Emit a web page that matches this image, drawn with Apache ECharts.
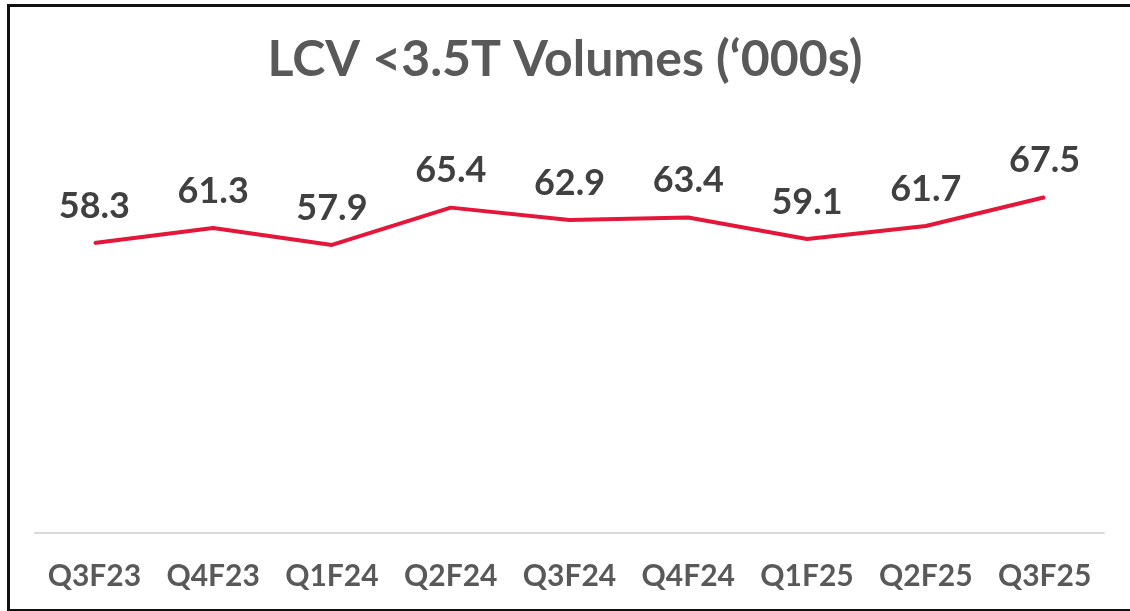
<!DOCTYPE html>
<html>
<head>
<meta charset="utf-8">
<script src="https://cdn.jsdelivr.net/npm/echarts@6/dist/echarts.min.js"></script>
<style>
    html, body { margin: 0; padding: 0; background: #fff; }
    #frame {
        position: absolute; left: 7px; top: 4px; width: 1130px; height: 602px;
        border-left: 3px solid #111; border-top: 3px solid #111; border-bottom: 3px solid #111;
    }
    #chart { position: absolute; left: 0; top: 0; width: 1130px; height: 611px; }
</style>
</head>
<body>
<div id="frame"></div>
<div id="chart"></div>
<script>
const quarters = ['Q3F23', 'Q4F23', 'Q1F24', 'Q2F24', 'Q3F24', 'Q4F24', 'Q1F25', 'Q2F25', 'Q3F25'];
const volumes = [58.3, 61.3, 57.9, 65.4, 62.9, 63.4, 59.1, 61.7, 67.5];

// LCV volumes line
function initVolumeChart() {
    const chart = echarts.init(document.getElementById('chart'));

    const option = {
        animation: false,
        title: {
            text: 'LCV <3.5T Volumes (\u2018000s)',
            left: 'center',
            top: 30,
            textStyle: {
                fontFamily: 'Lato',
                fontWeight: 'bold',
                fontSize: 50,
                color: '#595959'
            }
        },
        grid: {
            left: 35,
            right: 26,
            top: 135,
            bottom: 78
        },
        xAxis: {
            type: 'category',
            data: quarters,
            axisLine: { lineStyle: { color: '#d9d9d9', width: 2 } },
            axisTick: { show: false },
            axisLabel: {
                interval: 0,
                margin: 28,
                fontFamily: 'Lato',
                fontWeight: 'bold',
                fontSize: 30,
                color: '#595959'
            }
        },
        yAxis: {
            type: 'value',
            min: 0,
            max: 80,
            show: false,
            splitLine: { show: false }
        },
        series: [{
            type: 'line',
            data: volumes,
            symbol: 'circle',
            symbolSize: 2,
            itemStyle: { color: '#e4163a' },
            lineStyle: { color: '#e4163a', width: 4 },
            label: {
                show: true,
                position: 'top',
                distance: 18,
                fontFamily: 'Lato',
                fontWeight: 'bold',
                fontSize: 36,
                color: '#404040'
            }
        }]
    };

    chart.setOption(option);
}

window.onload = function() {
    initVolumeChart();
};
</script>
</body>
</html>
